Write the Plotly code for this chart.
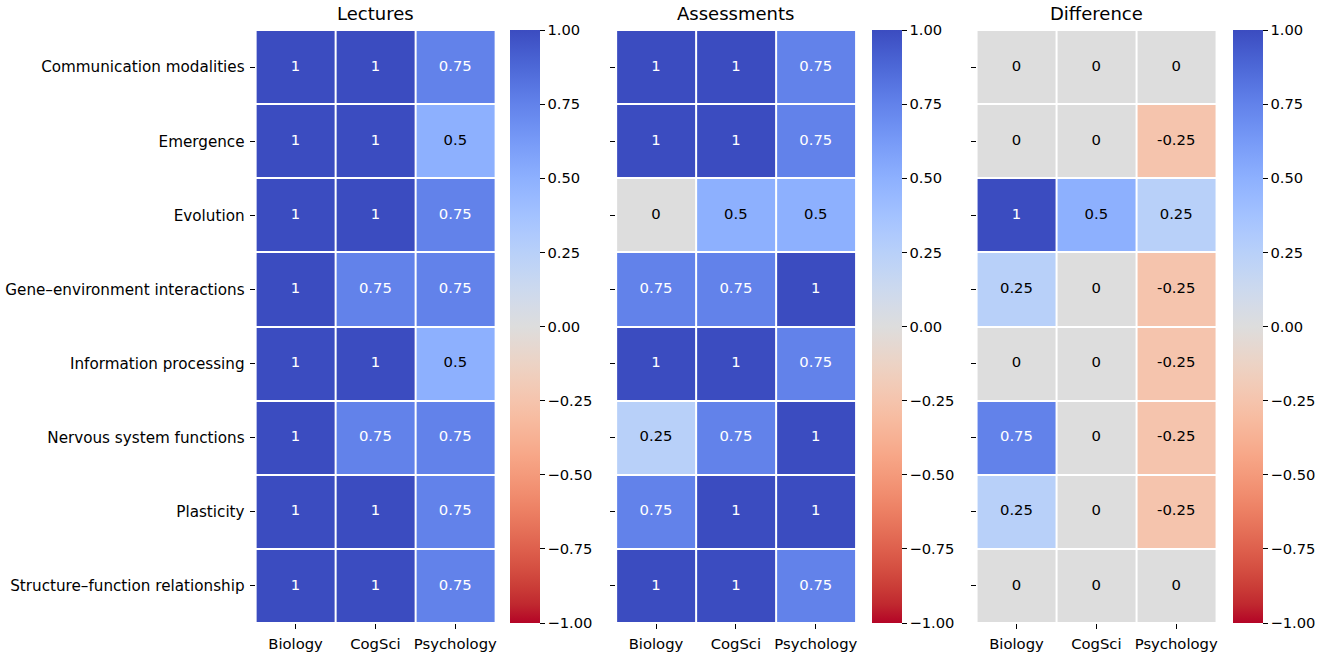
import plotly.graph_objects as go

topics = ["Communication modalities", "Emergence", "Evolution",
          "Gene–environment interactions", "Information processing",
          "Nervous system functions", "Plasticity",
          "Structure–function relationship"]
disciplines = ["Biology", "CogSci", "Psychology"]

lectures = [[1, 1, 0.75],
            [1, 1, 0.5],
            [1, 1, 0.75],
            [1, 0.75, 0.75],
            [1, 1, 0.5],
            [1, 0.75, 0.75],
            [1, 1, 0.75],
            [1, 1, 0.75]]

assessments = [[1, 1, 0.75],
               [1, 1, 0.75],
               [0, 0.5, 0.5],
               [0.75, 0.75, 1],
               [1, 1, 0.75],
               [0.25, 0.75, 1],
               [0.75, 1, 1],
               [1, 1, 0.75]]

difference = [[0, 0, 0],
              [0, 0, -0.25],
              [1, 0.5, 0.25],
              [0.25, 0, -0.25],
              [0, 0, -0.25],
              [0.75, 0, -0.25],
              [0.25, 0, -0.25],
              [0, 0, 0]]

panel_titles = ["Lectures", "Assessments", "Difference"]
cbar_ticks = [-1, -0.75, -0.5, -0.25, 0, 0.25, 0.5, 0.75, 1]

# matplotlib coolwarm, reversed so that +1 is blue
coolwarm = [
    (0.2298057, 0.298717966, 0.753683153), (0.26623388, 0.353094838, 0.801466763),
    (0.30386891, 0.406535296, 0.84495867), (0.342804478, 0.458757618, 0.883725899),
    (0.38301334, 0.50941904, 0.917387822), (0.424369608, 0.558148092, 0.945619588),
    (0.46666708, 0.604562568, 0.968154911), (0.509635204, 0.648280772, 0.98478814),
    (0.552953156, 0.688929332, 0.995375608), (0.596262162, 0.726149107, 0.999836203),
    (0.639176211, 0.759599947, 0.998151185), (0.681291281, 0.788964712, 0.990363227),
    (0.722193294, 0.813952739, 0.976574709), (0.761464949, 0.834302879, 0.956945269),
    (0.798691636, 0.849786142, 0.931688648), (0.833466556, 0.860207984, 0.901068838),
    (0.865395197, 0.86541021, 0.865395561), (0.897787179, 0.848937047, 0.820880546),
    (0.924127593, 0.827384882, 0.774508472), (0.944468518, 0.800927443, 0.726736146),
    (0.958852946, 0.769767752, 0.678007945), (0.96732803, 0.734132809, 0.628751763),
    (0.969954137, 0.694266682, 0.579375448), (0.966811177, 0.650421156, 0.530263762),
    (0.958003065, 0.602842431, 0.481775914), (0.943660866, 0.551750968, 0.434243684),
    (0.923944917, 0.49730856, 0.387970225), (0.89904617, 0.439559467, 0.343229596),
    (0.869186849, 0.378313092, 0.300267182), (0.834620542, 0.312874446, 0.259301199),
    (0.795631745, 0.24128379, 0.220525627), (0.752534934, 0.157246067, 0.184115123),
    (0.705673158, 0.01555616, 0.150232812)]
n = len(coolwarm) - 1
colorscale = []
for i, c in enumerate(reversed(coolwarm)):
    colorscale.append([i / n, "rgb(%d,%d,%d)" % tuple(round(v * 255) for v in c)])


def fmt(v):
    return "%g" % v


FONT = "DejaVu Sans"
W, H = 1325, 655
heat_left = [256, 617, 978]
heat_w = 240
cbar_left = [511, 873, 1235]
top, bottom = 30, 623
y0 = 1 - bottom / H
y1 = 1 - top / H

fig = go.Figure()

for k, data in enumerate([lectures, assessments, difference]):
    xa = "x" if k == 0 else "x%d" % (k + 1)
    ya = "y" if k == 0 else "y%d" % (k + 1)
    fig.add_trace(go.Heatmap(
        z=data, x=disciplines, y=topics,
        xaxis=xa, yaxis=ya,
        zmin=-1, zmax=1, colorscale=colorscale,
        xgap=2, ygap=2, hoverinfo="skip",
        colorbar=dict(
            x=cbar_left[k] / W, xanchor="left", xref="paper",
            y=y0, yanchor="bottom", len=y1 - y0, lenmode="fraction",
            thickness=30, thicknessmode="pixels", xpad=0, ypad=0,
            outlinewidth=0, ticks="outside", ticklen=5, tickwidth=1,
            tickcolor="black",
            tickvals=cbar_ticks,
            ticktext=[("%.2f" % t).replace("-", "\u2212") for t in cbar_ticks],
            tickfont=dict(family=FONT, size=14.7, color="black"),
        ),
    ))

    xs, ys, txt, cols = [], [], [], []
    for r, topic in enumerate(topics):
        for c, disc in enumerate(disciplines):
            v = data[r][c]
            xs.append(disc)
            ys.append(topic)
            txt.append(fmt(v))
            cols.append("white" if v >= 0.75 else "black")
    fig.add_trace(go.Scatter(
        x=xs, y=ys, text=txt, mode="text", xaxis=xa, yaxis=ya,
        textfont=dict(family=FONT, size=14.8, color=cols),
        hoverinfo="skip", showlegend=False,
    ))

    dom = [heat_left[k] / W, (heat_left[k] + heat_w) / W]
    axis_common = dict(ticks="outside", ticklen=5, tickwidth=1, tickcolor="black",
                       showgrid=False, zeroline=False, showline=False)
    fig.layout["xaxis" if k == 0 else "xaxis%d" % (k + 1)] = dict(
        domain=dom, anchor=ya, type="category", ticklabelstandoff=2,
        tickfont=dict(family=FONT, size=14.8, color="black"), **axis_common)
    fig.layout["yaxis" if k == 0 else "yaxis%d" % (k + 1)] = dict(
        domain=[y0, y1], anchor=xa, type="category", autorange="reversed",
        showticklabels=(k == 0), ticklabelstandoff=2,
        tickfont=dict(family=FONT, size=15.2, color="black"), **axis_common)

    fig.add_annotation(
        text=panel_titles[k], xref="paper", yref="paper",
        x=(dom[0] + dom[1]) / 2, y=1 - 14 / H, xanchor="center", yanchor="middle",
        showarrow=False, font=dict(family=FONT, size=18, color="black"))

fig.update_layout(
    width=W, height=H,
    margin=dict(l=0, r=0, t=0, b=0),
    paper_bgcolor="white", plot_bgcolor="white",
    showlegend=False,
)

# drop the browser's default body margin so the figure fills the window
fig.write_html("out.html",
               config={"displayModeBar": False},
               post_script="document.body.style.margin='0';"
                           "document.body.style.overflow='hidden';")
